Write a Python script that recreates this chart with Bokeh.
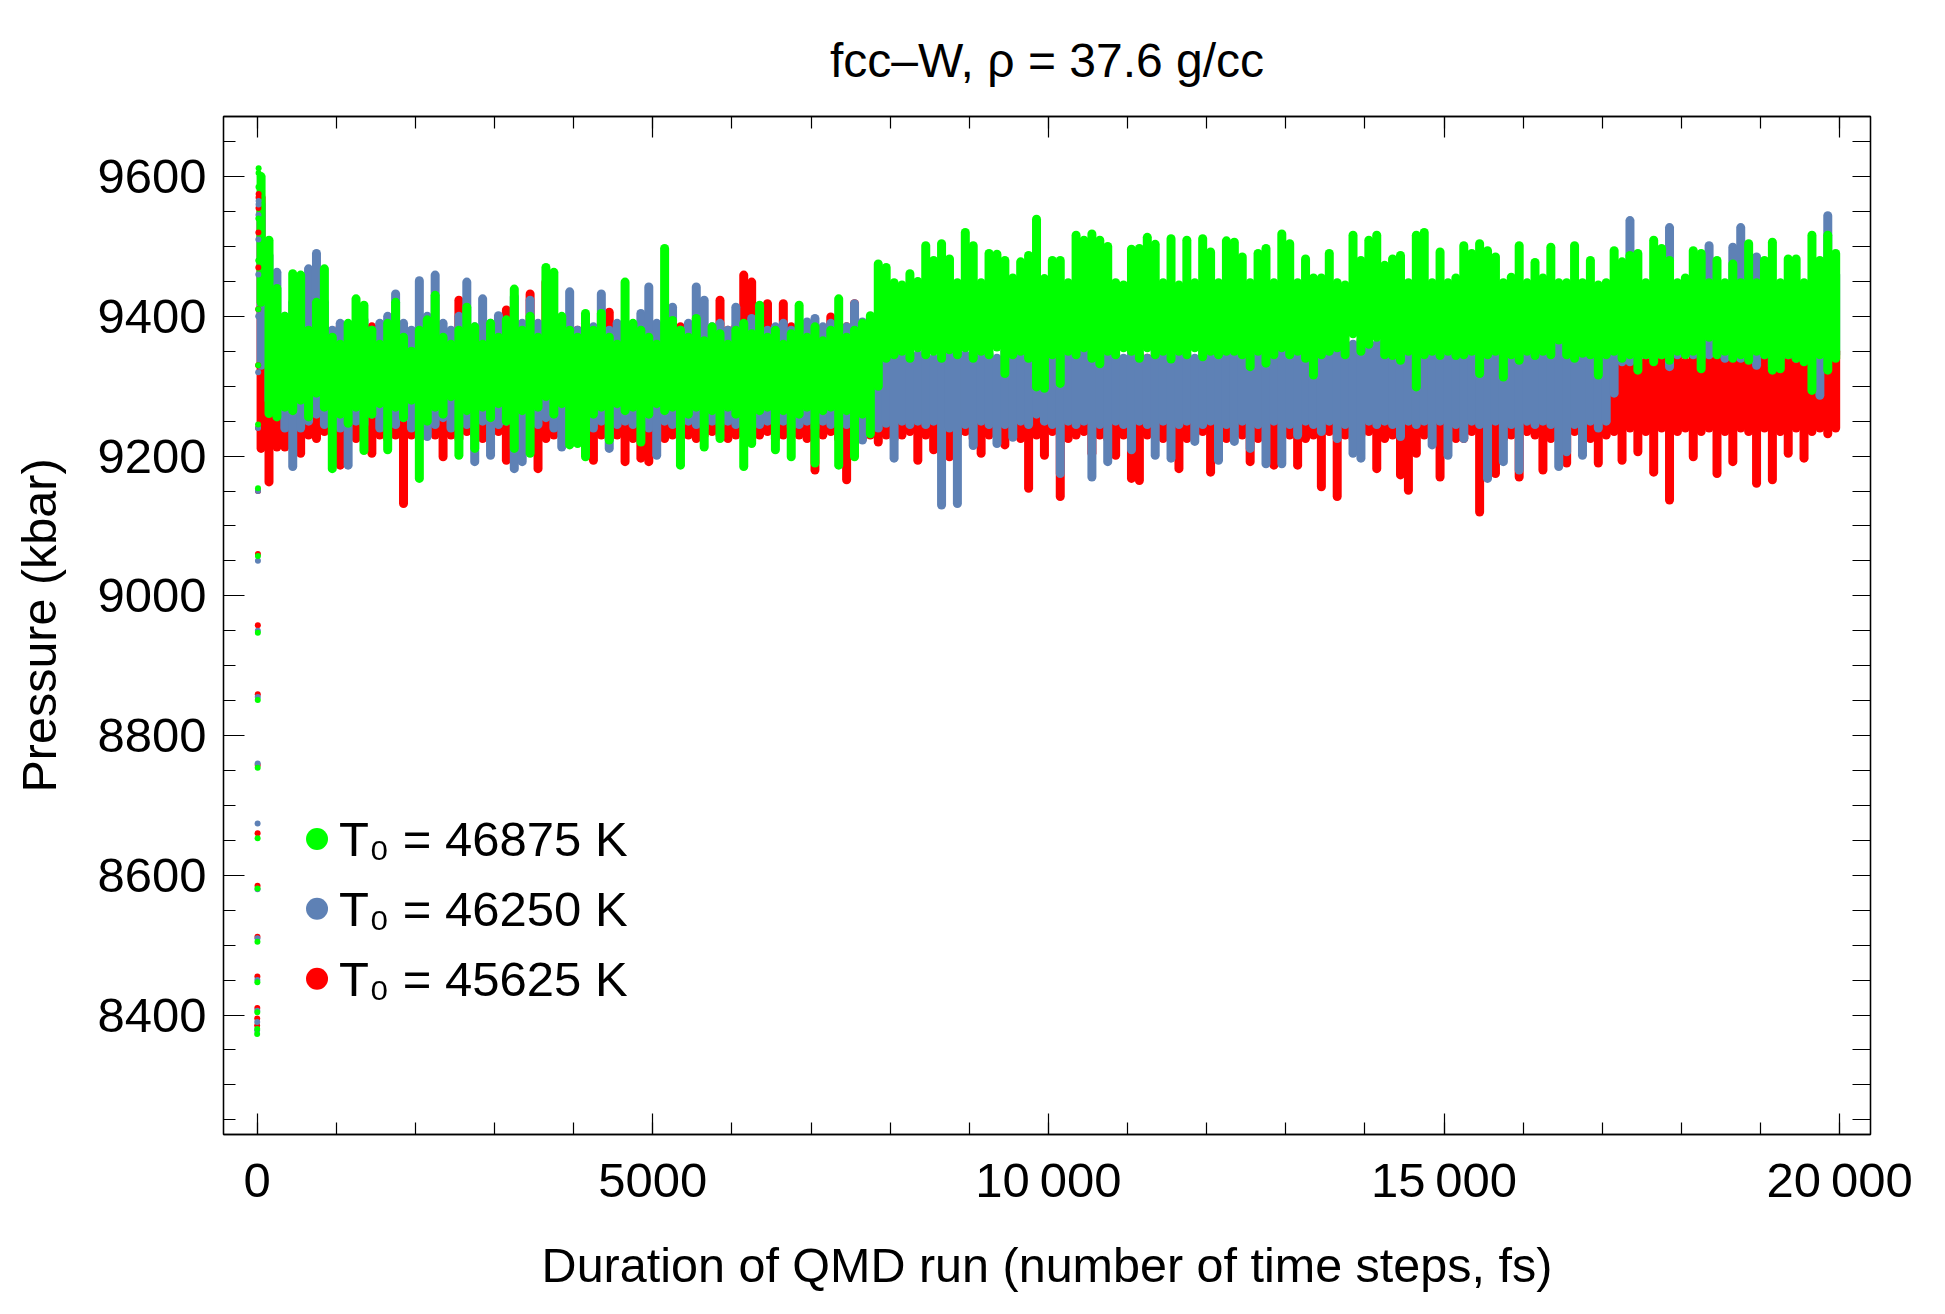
import numpy as np
from bokeh.plotting import figure
from bokeh.models import (Range1d, LinearAxis, SingleIntervalTicker, ColumnDataSource,
                          CustomJSTickFormatter)
from bokeh.core.properties import value
from bokeh.embed import file_html
from bokeh.resources import INLINE

FONT = "Liberation Sans"

# ---------------- data ----------------
# each 100-fs bin: lowest and highest pressure (kbar) seen in that bin
bin_t = np.arange(50, 20000, 100)

green_hi = [9600, 9509, 9440, 9400, 9461, 9459, 9380, 9420, 9468, 9370,
            9360, 9390, 9425, 9416, 9380, 9360, 9390, 9420, 9370, 9350,
            9380, 9395, 9430, 9370, 9360, 9380, 9413, 9385, 9360, 9390,
            9370, 9395, 9439, 9380, 9400, 9370, 9470, 9463, 9400, 9380,
            9370, 9404, 9380, 9404, 9370, 9360, 9449, 9390, 9380, 9370,
            9360, 9497, 9394, 9380, 9370, 9397, 9365, 9385, 9375, 9360,
            9380, 9390, 9375, 9416, 9370, 9380, 9360, 9375, 9416, 9370,
            9385, 9365, 9380, 9425, 9370, 9380, 9390, 9401, 9475, 9470,
            9448, 9445, 9461, 9450, 9501, 9480, 9504, 9482, 9448, 9520,
            9501, 9448, 9490, 9489, 9480, 9455, 9478, 9487, 9539, 9454,
            9480, 9480, 9448, 9516, 9509, 9518, 9509, 9500, 9448, 9445,
            9496, 9497, 9513, 9503, 9448, 9511, 9445, 9509, 9448, 9511,
            9492, 9448, 9508, 9506, 9485, 9448, 9490, 9497, 9448, 9518,
            9504, 9448, 9482, 9455, 9455, 9490, 9448, 9445, 9516, 9480,
            9509, 9516, 9473, 9482, 9487, 9448, 9516, 9520, 9448, 9492,
            9448, 9455, 9501, 9490, 9504, 9494, 9485, 9448, 9456, 9501,
            9448, 9477, 9455, 9499, 9448, 9448, 9501, 9448, 9480, 9445,
            9448, 9494, 9478, 9487, 9490, 9448, 9509, 9497, 9480, 9448,
            9455, 9494, 9490, 9448, 9480, 9448, 9475, 9448, 9504, 9448,
            9480, 9506, 9448, 9482, 9482, 9448, 9516, 9480, 9516, 9490]
green_lo = [9420, 9261, 9256, 9270, 9265, 9280, 9256, 9290, 9270, 9182,
            9260, 9247, 9270, 9208, 9260, 9275, 9209, 9270, 9255, 9280,
            9168, 9250, 9270, 9260, 9285, 9201, 9265, 9211, 9270, 9255,
            9275, 9250, 9211, 9265, 9204, 9270, 9285, 9260, 9275, 9216,
            9218, 9199, 9260, 9270, 9223, 9275, 9265, 9270, 9220, 9260,
            9275, 9265, 9270, 9187, 9260, 9270, 9213, 9265, 9225, 9270,
            9260, 9185, 9218, 9265, 9270, 9209, 9265, 9199, 9260, 9270,
            9190, 9265, 9270, 9187, 9265, 9199, 9260, 9232, 9300, 9340,
            9345, 9350, 9340, 9355, 9345, 9350, 9340, 9352, 9345, 9355,
            9340, 9350, 9345, 9356, 9318, 9345, 9350, 9340, 9299, 9297,
            9345, 9304, 9350, 9345, 9355, 9340, 9332, 9350, 9345, 9355,
            9350, 9340, 9355, 9345, 9350, 9339, 9350, 9345, 9355, 9342,
            9350, 9345, 9350, 9350, 9345, 9328, 9350, 9333, 9345, 9355,
            9345, 9350, 9340, 9316, 9345, 9350, 9355, 9345, 9375, 9350,
            9360, 9370, 9345, 9344, 9337, 9350, 9299, 9345, 9350, 9344,
            9350, 9344, 9345, 9350, 9318, 9345, 9350, 9313, 9345, 9337,
            9350, 9344, 9350, 9345, 9366, 9345, 9340, 9347, 9345, 9316,
            9345, 9350, 9340, 9345, 9323, 9345, 9335, 9345, 9337, 9350,
            9345, 9350, 9325, 9370, 9345, 9350, 9340, 9345, 9337, 9350,
            9345, 9323, 9325, 9345, 9340, 9335, 9294, 9345, 9323, 9340]

blue_hi = [9560, 9487, 9463, 9400, 9420, 9380, 9468, 9490, 9420, 9380,
           9390, 9370, 9385, 9395, 9380, 9390, 9400, 9432, 9390, 9380,
           9451, 9400, 9459, 9390, 9380, 9400, 9449, 9385, 9425, 9390,
           9401, 9385, 9428, 9390, 9423, 9390, 9380, 9385, 9390, 9435,
           9380, 9390, 9385, 9432, 9380, 9390, 9385, 9380, 9404, 9442,
           9390, 9385, 9413, 9380, 9390, 9442, 9423, 9385, 9390, 9380,
           9413, 9385, 9397, 9390, 9380, 9385, 9390, 9380, 9390, 9392,
           9397, 9385, 9390, 9380, 9385, 9418, 9392, 9385, 9350, 9345,
           9340, 9345, 9340, 9345, 9350, 9340, 9345, 9394, 9350, 9345,
           9340, 9350, 9345, 9340, 9350, 9404, 9345, 9340, 9350, 9345,
           9340, 9350, 9345, 9340, 9350, 9345, 9340, 9350, 9345, 9340,
           9350, 9345, 9340, 9350, 9345, 9340, 9350, 9345, 9340, 9350,
           9345, 9409, 9345, 9411, 9360, 9355, 9365, 9360, 9355, 9428,
           9360, 9365, 9355, 9360, 9446, 9360, 9365, 9355, 9360, 9365,
           9355, 9360, 9365, 9355, 9360, 9365, 9360, 9355, 9365, 9360,
           9355, 9360, 9365, 9360, 9355, 9360, 9365, 9360, 9355, 9360,
           9365, 9360, 9355, 9360, 9365, 9360, 9355, 9360, 9365, 9360,
           9365, 9430, 9460, 9537, 9440, 9435, 9440, 9445, 9527, 9440,
           9445, 9435, 9440, 9501, 9440, 9445, 9499, 9527, 9440, 9485,
           9445, 9445, 9440, 9435, 9440, 9445, 9450, 9440, 9544, 9460]
blue_lo = [9330, 9280, 9270, 9240, 9185, 9240, 9250, 9260, 9245, 9250,
           9240, 9187, 9250, 9245, 9260, 9240, 9250, 9245, 9255, 9240,
           9250, 9228, 9245, 9255, 9240, 9250, 9245, 9192, 9250, 9201,
           9245, 9250, 9182, 9192, 9250, 9245, 9255, 9240, 9213, 9250,
           9245, 9250, 9240, 9250, 9211, 9245, 9250, 9245, 9250, 9240,
           9201, 9250, 9245, 9209, 9250, 9245, 9240, 9250, 9245, 9250,
           9245, 9250, 9240, 9245, 9250, 9245, 9250, 9242, 9245, 9250,
           9240, 9250, 9245, 9250, 9245, 9250, 9223, 9250, 9240, 9247,
           9197, 9250, 9245, 9250, 9245, 9250, 9130, 9240, 9132, 9245,
           9215, 9250, 9245, 9218, 9245, 9227, 9250, 9245, 9260, 9250,
           9245, 9175, 9250, 9245, 9250, 9170, 9245, 9192, 9250, 9245,
           9209, 9250, 9245, 9201, 9250, 9197, 9245, 9250, 9221, 9245,
           9250, 9194, 9245, 9221, 9250, 9211, 9245, 9189, 9250, 9189,
           9245, 9230, 9250, 9245, 9235, 9250, 9225, 9245, 9204, 9197,
           9250, 9245, 9250, 9245, 9228, 9250, 9245, 9250, 9216, 9250,
           9201, 9245, 9225, 9250, 9245, 9168, 9250, 9192, 9245, 9180,
           9250, 9245, 9250, 9245, 9185, 9206, 9245, 9201, 9250, 9240,
           9250, 9290, 9335, 9335, 9340, 9345, 9340, 9345, 9328, 9345,
           9375, 9345, 9340, 9345, 9350, 9340, 9345, 9340, 9345, 9330,
           9345, 9328, 9340, 9345, 9340, 9345, 9345, 9287, 9340, 9345]

red_hi = [9570, 9420, 9380, 9370, 9385, 9375, 9380, 9370, 9380, 9375,
          9385, 9370, 9380, 9375, 9385, 9370, 9380, 9375, 9385, 9370,
          9380, 9375, 9385, 9380, 9370, 9423, 9380, 9375, 9385, 9370,
          9380, 9409, 9375, 9380, 9432, 9375, 9449, 9380, 9375, 9385,
          9380, 9375, 9380, 9385, 9406, 9375, 9380, 9385, 9375, 9380,
          9385, 9375, 9380, 9385, 9375, 9380, 9385, 9375, 9423, 9380,
          9385, 9459, 9449, 9385, 9418, 9380, 9418, 9385, 9375, 9380,
          9385, 9375, 9399, 9380, 9385, 9418, 9380, 9375, 9380, 9385,
          9330, 9335, 9330, 9340, 9335, 9330, 9394, 9335, 9399, 9330,
          9335, 9330, 9340, 9335, 9330, 9335, 9340, 9330, 9335, 9330,
          9340, 9335, 9330, 9335, 9340, 9330, 9335, 9330, 9340, 9335,
          9330, 9335, 9340, 9330, 9335, 9330, 9340, 9335, 9330, 9335,
          9340, 9330, 9335, 9330, 9340, 9335, 9330, 9335, 9340, 9330,
          9335, 9330, 9340, 9335, 9330, 9335, 9340, 9330, 9335, 9330,
          9340, 9335, 9330, 9335, 9340, 9330, 9335, 9330, 9340, 9335,
          9330, 9335, 9340, 9330, 9335, 9330, 9340, 9335, 9330, 9335,
          9340, 9330, 9335, 9330, 9340, 9335, 9330, 9335, 9340, 9330,
          9335, 9340, 9345, 9361, 9340, 9335, 9345, 9368, 9340, 9345,
          9335, 9340, 9345, 9340, 9375, 9340, 9345, 9335, 9378, 9340,
          9345, 9340, 9335, 9345, 9340, 9345, 9380, 9340, 9345, 9350]
red_lo = [9211, 9163, 9213, 9213, 9220, 9204, 9230, 9225, 9235, 9230,
          9187, 9230, 9225, 9235, 9204, 9230, 9225, 9230, 9132, 9230,
          9225, 9235, 9230, 9199, 9230, 9225, 9235, 9230, 9225, 9230,
          9235, 9194, 9230, 9225, 9230, 9182, 9225, 9230, 9235, 9230,
          9225, 9230, 9194, 9230, 9225, 9230, 9192, 9225, 9197, 9192,
          9230, 9225, 9230, 9235, 9230, 9225, 9230, 9235, 9230, 9225,
          9230, 9235, 9225, 9230, 9235, 9225, 9230, 9235, 9230, 9225,
          9180, 9230, 9235, 9225, 9166, 9230, 9225, 9230, 9220, 9230,
          9225, 9230, 9235, 9194, 9230, 9209, 9225, 9199, 9230, 9235,
          9225, 9204, 9230, 9235, 9216, 9230, 9225, 9154, 9230, 9201,
          9235, 9142, 9225, 9230, 9235, 9204, 9230, 9225, 9201, 9230,
          9168, 9165, 9230, 9235, 9225, 9230, 9182, 9225, 9230, 9235,
          9177, 9230, 9225, 9235, 9230, 9192, 9225, 9230, 9187, 9235,
          9230, 9187, 9225, 9230, 9156, 9235, 9142, 9230, 9225, 9230,
          9235, 9182, 9225, 9230, 9173, 9151, 9204, 9230, 9235, 9170,
          9230, 9225, 9225, 9235, 9120, 9230, 9175, 9225, 9230, 9170,
          9235, 9230, 9180, 9225, 9230, 9190, 9235, 9230, 9225, 9190,
          9230, 9235, 9194, 9240, 9206, 9235, 9177, 9240, 9137, 9235,
          9240, 9199, 9235, 9240, 9175, 9235, 9192, 9240, 9235, 9161,
          9240, 9166, 9235, 9204, 9240, 9197, 9235, 9240, 9232, 9240]

# first 20 time steps: equilibration ramp
ramp_t = list(range(20))
green_ramp = [8373, 8380, 8404, 8447, 8505, 8581, 8653, 8754, 8851, 8947,
              9057, 9154, 9245, 9330, 9410, 9480, 9540, 9585, 9605, 9612]
blue_ramp = [8378, 8390, 8406, 8450, 8510, 8580, 8674, 8760, 8855, 8950,
             9050, 9150, 9240, 9320, 9400, 9460, 9510, 9545, 9560, 9565]
red_ramp = [8385, 8395, 8410, 8455, 8512, 8585, 8660, 8758, 8859, 8958,
            9060, 9150, 9240, 9330, 9410, 9470, 9520, 9555, 9570, 9575]

labels = ["T\u2080 = 46875 K", "T\u2080 = 46250 K", "T\u2080 = 45625 K"]
colors = ["#00FF00", "#5E81B5", "#FF0000"]

# ---------------- figure ----------------
p = figure(width=1929, height=1298,
           x_range=Range1d(-425, 20390), y_range=Range1d(8229, 9686),
           output_backend="svg", toolbar_location=None,
           min_border_left=223, min_border_right=59,
           min_border_top=116, min_border_bottom=164)
p.grid.visible = False
p.outline_line_color = "black"
p.outline_line_width = 1.3
p.background_fill_color = "white"
p.border_fill_color = "white"

p.title.text = "fcc\u2013W, \u03c1 = 37.6 g/cc"
p.title.align = "center"
p.title.text_font = FONT
p.title.text_font_size = "48px"
p.title.text_font_style = "normal"
p.title.text_color = "black"
p.title.standoff = 59

series = [(red_lo, red_hi, red_ramp, colors[2]),
          (blue_lo, blue_hi, blue_ramp, colors[1]),
          (green_lo, green_hi, green_ramp, colors[0])]
for lo, hi, ramp, col in series:
    src = ColumnDataSource(dict(t=bin_t, lo=lo, hi=hi))
    p.segment(x0="t", y0="lo", x1="t", y1="hi", source=src,
              line_color=col, line_width=9, line_cap="round")
for lo, hi, ramp, col in series:
    p.scatter(ramp_t, ramp, size=6, color=col, line_color=None)

# axes
xb = p.xaxis[0]
yl = p.yaxis[0]
xb.ticker = SingleIntervalTicker(interval=5000, num_minor_ticks=5)
yl.ticker = SingleIntervalTicker(interval=200, num_minor_ticks=4)
xb.major_label_overrides = {10000: "10\u2009000", 15000: "15\u2009000", 20000: "20\u2009000"}
xb.axis_label = "Duration of QMD run (number of time steps, fs)"
yl.axis_label = "Pressure (kbar)"

blank = CustomJSTickFormatter(code="return ''")
top = LinearAxis(ticker=SingleIntervalTicker(interval=5000, num_minor_ticks=5),
                 formatter=blank)
right = LinearAxis(ticker=SingleIntervalTicker(interval=50, num_minor_ticks=0),
                   formatter=blank)
p.add_layout(top, "above")
p.add_layout(right, "right")

for ax in [xb, yl, top, right]:
    ax.axis_line_color = "black"
    ax.axis_line_width = 1.3
    ax.major_tick_line_color = "black"
    ax.minor_tick_line_color = "black"
    ax.major_tick_line_width = 1.2
    ax.minor_tick_line_width = 1.2
    ax.major_tick_in = 21
    ax.major_tick_out = 0
    ax.minor_tick_in = 12
    ax.minor_tick_out = 0
    ax.major_label_text_font = FONT
    ax.major_label_text_font_size = "49px"
    ax.major_label_text_color = "black"
    ax.axis_label_text_font = FONT
    ax.axis_label_text_font_size = "48.5px"
    ax.axis_label_text_font_style = "normal"
    ax.axis_label_text_color = "black"

right.major_tick_in = 18
for ax in [top, right]:
    ax.major_label_text_color = None
    ax.major_label_standoff = 0

xb.major_label_standoff = 18
yl.major_label_standoff = 17
xb.axis_label_standoff = 28
yl.axis_label_standoff = 28

# legend
leg_y = [8652, 8552, 8452]
p.scatter([757, 757, 757], leg_y, size=22, color=colors, line_color=None)
p.text([1034, 1034, 1034], leg_y, text=labels, text_font=value(FONT),
       text_font_size="49px", text_baseline="middle", text_align="left",
       text_color="black")

open("out.html", "w").write(file_html(p, INLINE))
